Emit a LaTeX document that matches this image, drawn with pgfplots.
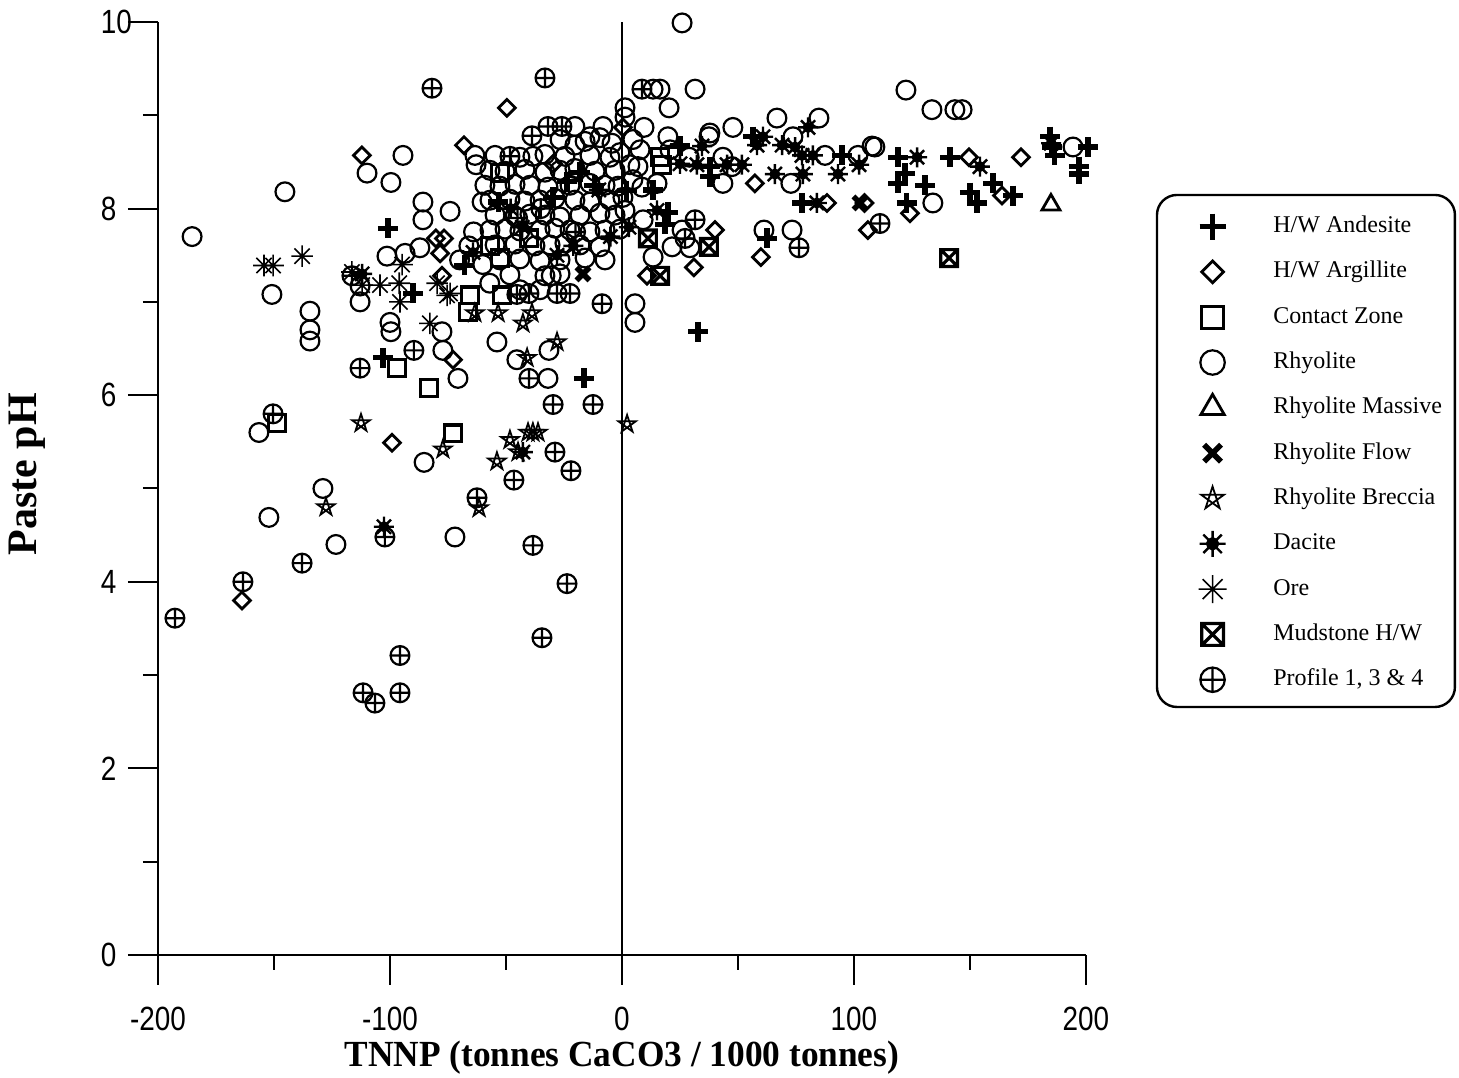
\documentclass[border=0pt]{standalone}
\usepackage{fontspec}
\setmainfont{Liberation Serif}
\newfontfamily\arial{Liberation Sans}
\usepackage{pgfplots}
\pgfplotsset{compat=1.18}

\pgfdeclareplotmark{pentastar}{%
 \pgfpathmoveto{\pgfqpoint{0pt}{\pgfplotmarksize}}%
 \pgfpathlineto{\pgfqpoint{-0.588\pgfplotmarksize}{-0.809\pgfplotmarksize}}%
 \pgfpathlineto{\pgfqpoint{0.951\pgfplotmarksize}{0.309\pgfplotmarksize}}%
 \pgfpathlineto{\pgfqpoint{-0.951\pgfplotmarksize}{0.309\pgfplotmarksize}}%
 \pgfpathlineto{\pgfqpoint{0.588\pgfplotmarksize}{-0.809\pgfplotmarksize}}%
 \pgfpathclose\pgfusepathqstroke}
\pgfdeclareplotmark{spokes}{%
 \pgfpathmoveto{\pgfqpoint{-\pgfplotmarksize}{0pt}}\pgfpathlineto{\pgfqpoint{\pgfplotmarksize}{0pt}}%
 \pgfpathmoveto{\pgfqpoint{0pt}{-\pgfplotmarksize}}\pgfpathlineto{\pgfqpoint{0pt}{\pgfplotmarksize}}%
 \pgfpathmoveto{\pgfqpoint{-0.707\pgfplotmarksize}{-0.707\pgfplotmarksize}}\pgfpathlineto{\pgfqpoint{0.707\pgfplotmarksize}{0.707\pgfplotmarksize}}%
 \pgfpathmoveto{\pgfqpoint{-0.707\pgfplotmarksize}{0.707\pgfplotmarksize}}\pgfpathlineto{\pgfqpoint{0.707\pgfplotmarksize}{-0.707\pgfplotmarksize}}%
 \pgfusepathqstroke}
\pgfdeclareplotmark{dacite}{%
 \pgfpathmoveto{\pgfqpoint{-\pgfplotmarksize}{0pt}}\pgfpathlineto{\pgfqpoint{\pgfplotmarksize}{0pt}}%
 \pgfpathmoveto{\pgfqpoint{0pt}{-\pgfplotmarksize}}\pgfpathlineto{\pgfqpoint{0pt}{\pgfplotmarksize}}%
 \pgfpathmoveto{\pgfqpoint{-0.707\pgfplotmarksize}{-0.707\pgfplotmarksize}}\pgfpathlineto{\pgfqpoint{0.707\pgfplotmarksize}{0.707\pgfplotmarksize}}%
 \pgfpathmoveto{\pgfqpoint{-0.707\pgfplotmarksize}{0.707\pgfplotmarksize}}\pgfpathlineto{\pgfqpoint{0.707\pgfplotmarksize}{-0.707\pgfplotmarksize}}%
 \pgfusepathqstroke
 \pgfpathcircle{\pgfpointorigin}{0.42\pgfplotmarksize}\pgfusepathqfillstroke}
\pgfdeclareplotmark{rdiamond}{%
 \pgfpathmoveto{\pgfqpoint{0pt}{\pgfplotmarksize}}%
 \pgfpathlineto{\pgfqpoint{\pgfplotmarksize}{0pt}}%
 \pgfpathlineto{\pgfqpoint{0pt}{-\pgfplotmarksize}}%
 \pgfpathlineto{\pgfqpoint{-\pgfplotmarksize}{0pt}}%
 \pgfpathclose\pgfusepathqstroke}
\pgfdeclareplotmark{sqx}{%
 \pgfpathrectangle{\pgfqpoint{-\pgfplotmarksize}{-\pgfplotmarksize}}{\pgfqpoint{2\pgfplotmarksize}{2\pgfplotmarksize}}%
 \pgfpathmoveto{\pgfqpoint{-\pgfplotmarksize}{-\pgfplotmarksize}}\pgfpathlineto{\pgfqpoint{\pgfplotmarksize}{\pgfplotmarksize}}%
 \pgfpathmoveto{\pgfqpoint{-\pgfplotmarksize}{\pgfplotmarksize}}\pgfpathlineto{\pgfqpoint{\pgfplotmarksize}{-\pgfplotmarksize}}%
 \pgfusepathqstroke}

\pgfplotsset{lg/.style={only marks, legend image code/.code={\path (0pt,-3pt) (22.5pt,3pt); \draw[##1, /tikz/every mark/.append style={scale=1.3}] plot coordinates {(9pt,0pt)};}}}

\begin{document}
\begin{tikzpicture}
\path[use as bounding box] (-39.5pt,-30.75pt) rectangle (325.25pt,238.75pt);
\begin{axis}[
 at={(0pt,0pt)}, anchor=south west,
 scale only axis, width=232pt, height=233.25pt,
 xmin=-200, xmax=200, ymin=0, ymax=10,
 axis lines=left, axis line style={-, line width=0.5pt},
 xtick={-200,-100,0,100,200}, minor xtick={-150,-50,50,150},
 ytick={0,2,4,6,8,10}, minor ytick={1,3,5,7,9},
 tick align=outside, major tick length=7.5pt, minor tick length=3.75pt,
 every tick/.style={black, line width=0.5pt},
 tick label style={font=\arial\fontsize{8.4}{9}\selectfont, xscale=0.83},
 xticklabel style={yshift=-2pt},
 yticklabel style={anchor=west, inner xsep=0pt, xshift=-8.4pt},
 /pgf/number format/assume math mode=true,
 xlabel={TNNP (tonnes CaCO3 / 1000 tonnes)}, ylabel={Paste pH},
 xlabel style={font=\fontsize{9.2}{10}\selectfont\bfseries, at={(axis description cs:0.5,-0.110)}, anchor=center, xscale=0.96},
 ylabel style={font=\fontsize{10.5}{12}\selectfont\bfseries, at={(axis description cs:-0.141,0.5155)}, anchor=center},
 clip=false,
 legend style={at={(rel axis cs:1.0765,0.8146)}, anchor=north west, draw=none, fill=none,
   font=\fontsize{6}{7}\selectfont, inner xsep=4pt, inner ysep=3.7pt, row sep=3.33pt,
   nodes={inner sep=1pt, text height=4.5pt, text depth=1.5pt}},
 legend cell align=left,
]
\draw[line width=0.4pt] (axis cs:0,0) -- (axis cs:0,10);
\draw[line width=0.6pt, rounded corners=5pt] (rel axis cs:1.0765,0.8146) rectangle (rel axis cs:1.3976,0.2658);

% H/W Andesite
\addplot[lg, mark=+, mark size=2.5pt, line width=1.3pt] coordinates {
(-100.9,7.79) (-103.0,6.40) (-90.1,7.09) (-68.0,7.39) (-53.4,8.07) (-29.7,8.12)
(-23.7,8.29) (-18.1,8.39) (-12.0,8.25) (2.0,8.19) (-16.4,6.18) (13.4,8.20)
(19.8,7.96) (18.5,7.83) (25.0,8.67) (37.9,8.45) (37.9,8.34) (56.5,8.77)
(62.5,7.68) (77.6,8.06) (94.8,8.57) (32.8,6.68) (119.0,8.55) (122.0,8.38)
(119.0,8.27) (130.6,8.25) (122.8,8.06) (141.4,8.55) (150.0,8.17) (153.0,8.06)
(159.9,8.27) (168.5,8.14) (184.5,8.77) (185.3,8.66) (186.6,8.57) (200.9,8.66)
(197.0,8.45) (197.0,8.37)};
\addlegendentry{H/W Andesite}

% H/W Argillite
\addplot[lg, mark=rdiamond, mark size=2.1pt, line width=0.7pt] coordinates {
(-163.8,3.80) (-112.1,8.57) (-99.1,5.49) (-72.8,6.38) (-68.1,8.68) (-49.6,9.08)
(-80.2,7.68) (-76.7,7.68) (-78.4,7.52) (-77.6,7.28) (-29.7,8.48) (0.4,8.87)
(10.8,7.28) (31.0,7.37) (59.9,7.48) (40.1,7.77) (57.3,8.27) (88.4,8.06)
(104.5,8.06) (106.0,7.77) (124.1,7.95) (149.6,8.55) (163.8,8.14) (172.0,8.55)};
\addlegendentry{H/W Argillite}

% Contact Zone
\addplot[lg, mark=square, mark size=2.1pt, line width=0.8pt] coordinates {
(-148.7,5.70) (-97.0,6.29) (-83.2,6.08) (-72.8,5.59) (-65.5,7.07) (-66.4,6.89)
(-51.7,7.07) (-52.6,8.38) (-52.6,7.47) (-40.0,7.68) (16.4,8.55) (17.2,8.47) (-57.0,7.60)};
\addlegendentry{Contact Zone}

% Rhyolite
\addplot[lg, mark=o, mark size=2.35pt, line width=0.55pt] coordinates {
(-185.3,7.70) (-145.3,8.18) (-150.9,7.08) (-156.5,5.60) (-152.2,4.69) (-128.9,5.00)
(-123.3,4.40) (-134.5,6.90) (-134.5,6.70) (-134.5,6.58) (-109.9,8.38) (-99.6,8.28)
(-101.3,7.49) (-112.9,7.17) (-112.9,7.00) (-100.0,6.78) (-99.6,6.68) (-94.4,8.57)
(-85.8,8.07) (-85.8,7.88) (-74.1,7.97) (-87.1,7.58) (-93.5,7.52) (-63.4,8.57)
(-62.9,8.47) (-77.6,6.68) (-77.2,6.48) (-70.7,6.18) (-72.0,4.48) (-85.3,5.28)
(-53.9,6.57) (-45.3,6.38) (-31.5,6.48) (-31.9,6.18) (-60.3,8.07) (-38.4,8.56)
(-20.3,8.88) (-13.8,8.77) (-8.2,8.88) (-20.3,8.68) (1.3,9.08) (1.3,8.98)
(5.6,6.98) (5.6,6.78) (-33.2,7.28) (-30.5,7.28)
(-64,7.75) (-60,7.40) (-57,7.20) (-70,7.45) (-66,7.60)
(-26.7,8.74) (-15.9,8.72) (-9.5,8.76) (-4.3,8.70)
(-54.7,8.57) (-44.0,8.55) (-33.2,8.58) (-24.6,8.56) (-13.8,8.57) (-5.2,8.55) (-0.9,8.60)
(-56.9,8.41) (-50.4,8.40) (-41.8,8.42) (-33.2,8.39) (-26.7,8.41) (-20.3,8.43) (-11.6,8.40) (-3.0,8.41)
(-59.1,8.25) (-52.6,8.24) (-46.1,8.26) (-39.7,8.25) (-31.9,8.23) (-22.4,8.25) (-13.8,8.27) (-7.3,8.25) (-1.7,8.24)
(-56.9,8.09) (-48.3,8.10) (-41.8,8.08) (-35.3,8.09) (-28.9,8.11) (-20.3,8.09) (-13.8,8.07) (-5.2,8.09)
(-54.7,7.93) (-46.1,7.92) (-39.7,7.94) (-33.2,7.93) (-26.7,7.91) (-18.1,7.93) (-9.5,7.95) (-3.0,7.93)
(-56.9,7.77) (-50.4,7.78) (-44.0,7.76) (-35.3,7.77) (-28.9,7.79) (-22.4,7.77) (-13.8,7.75) (-7.3,7.77) (-0.9,7.78)
(-54.7,7.61) (-46.1,7.62) (-37.5,7.60) (-31.0,7.61) (-24.6,7.63) (-18.1,7.61) (-9.5,7.59)
(-52.6,7.45) (-44.0,7.46) (-35.3,7.44) (-26.7,7.45) (-15.9,7.47) (-7.3,7.45)
(-48.3,7.29) (-26.7,7.30) (-44.0,7.13) (-35.3,7.13)
(25.9,9.99) (13.4,9.28) (16.4,9.28) (31.5,9.28) (20.3,9.08) (9.5,8.87)
(47.8,8.87) (66.8,8.97) (84.9,8.97) (107.8,8.67) (37.5,8.77) (73.7,8.77)
(87.5,8.57) (101.7,8.57) (72.8,8.27) (43.5,8.27) (61.2,7.77) (73.3,7.77)
(9.1,7.88) (21.6,7.59) (29.3,7.58) (122.4,9.27) (133.6,9.06) (143.5,9.06)
(146.6,9.06) (109.0,8.66) (194.4,8.66) (134.0,8.06) (4.7,8.74) (7.8,8.63)
(3.4,8.47) (6.9,8.45) (19.8,8.77) (20.7,8.63) (43.5,8.55) (47.4,8.45)
(37.9,8.81) (8.6,8.23) (15.1,8.27) (4.7,8.31) (0.4,8.12) (1.3,7.98)
(13.4,7.48) (25.9,7.77) (29.0,8.55)};
\addlegendentry{Rhyolite}

% Rhyolite Massive
\addplot[lg, mark=triangle, mark size=2.6pt, line width=0.7pt] coordinates {(184.9,8.04)};
\addlegendentry{Rhyolite Massive}

% Rhyolite Flow
\addplot[lg, mark=x, mark size=2.3pt, line width=1.4pt] coordinates {(-16.8,7.30) (102.6,8.06)};
\addlegendentry{Rhyolite Flow}

% Rhyolite Breccia
\addplot[lg, mark=pentastar, mark size=2.3pt, line width=0.45pt] coordinates {
(-112.5,5.70) (-127.6,4.80) (-77.2,5.42) (-63.4,6.88) (-53.4,6.88) (-42.7,6.77)
(-38.8,6.88) (-40.9,6.40) (-28.0,6.57) (-40.5,5.60) (-38.4,5.60) (-36.2,5.60)
(-48.3,5.52) (-53.9,5.29) (-44.8,5.39) (-61.6,4.79) (2.2,5.69)};
\addlegendentry{Rhyolite Breccia}

% Dacite
\addplot[lg, mark=dacite, mark size=2.5pt, line width=0.6pt, mark options={fill=black}] coordinates {
(-102.6,4.59) (-42.7,5.39) (-64.2,7.53) (-112.0,7.30) (-48,8.0) (-43,7.8)
(-28,7.5) (-21,7.6) (-10,8.2) (-5,7.7) (3,7.8) (15.1,7.98) (25.0,8.48)
(32.3,8.47) (34.5,8.67) (45.3,8.47) (51.7,8.47) (58.2,8.68) (60.8,8.77)
(69.0,8.68) (74.6,8.66) (77.6,8.57) (82.3,8.57) (80.2,8.87) (65.9,8.37)
(78.0,8.37) (84.0,8.06) (93.1,8.37) (102.2,8.47) (127.2,8.55) (154.3,8.45) (185,8.7)};
\addlegendentry{Dacite}

% Ore
\addplot[lg, mark=spokes, mark size=2.7pt, line width=0.4pt] coordinates {
(-154.3,7.39) (-150.4,7.39) (-137.9,7.49) (-116.4,7.32) (-112.0,7.18) (-104.3,7.18)
(-94.8,7.40) (-95.7,7.00) (-96,7.2) (-79.7,7.20) (-74.1,7.09) (-82.8,6.77) (-75.4,7.07)};
\addlegendentry{Ore}

% Mudstone H/W
\addplot[lg, mark=sqx, mark size=2.1pt, line width=0.8pt] coordinates {
(11.2,7.68) (16.4,7.28) (37.5,7.59) (141.0,7.47)};
\addlegendentry{Mudstone H/W}

% Profile 1, 3 & 4
\addplot[lg, mark=oplus, mark size=2.35pt, line width=0.55pt] coordinates {
(-192.7,3.61) (-163.4,4.00) (-150.4,5.80) (-137.9,4.20) (-112.9,6.29) (-116.4,7.28)
(-102.2,4.48) (-95.7,3.21) (-95.7,2.81) (-111.6,2.81) (-106.5,2.70) (-89.7,6.48)
(-81.9,9.29) (-33.2,9.40) (-48.3,8.56) (-38.8,8.78) (-31.9,8.88) (-25.9,8.88)
(-45.3,7.08) (-40.1,7.09) (-28.0,7.09) (-22.4,7.09) (-8.6,6.98) (-40.1,6.18)
(-29.7,5.90) (-12.5,5.90) (-28.9,5.39) (-22.0,5.19) (-46.6,5.09) (-62.5,4.90)
(-38.4,4.39) (-23.7,3.98) (-34.5,3.40) (8.6,9.28) (31.5,7.88) (27.2,7.68)
(76.3,7.58) (111.2,7.84) (-45,7.9) (-35,8.0) (-20,7.75)};
\addlegendentry{Profile 1, 3 \& 4}
\end{axis}
\end{tikzpicture}
\end{document}
